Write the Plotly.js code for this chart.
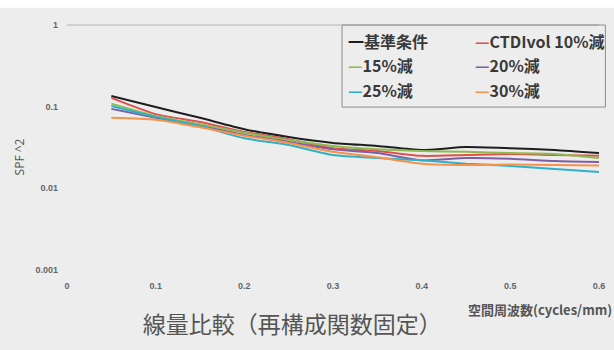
<!DOCTYPE html>
<html>
<head>
<meta charset="utf-8">
<script src="https://cdn.plot.ly/plotly-3.0.1.min.js"></script>
<style>
  html, body { margin: 0; padding: 0; background: #ededed; }
  #chart { width: 614px; height: 350px; }
</style>
</head>
<body>
<div id="chart"></div>
<script>
// Spatial frequency (cycles/mm)
const freq = [0.05, 0.1, 0.15, 0.2, 0.25, 0.3, 0.35, 0.4, 0.45, 0.5, 0.55, 0.6];

// SPF^2 per dose condition
const baseline = [0.135, 0.099, 0.073, 0.053, 0.0425, 0.036, 0.033, 0.0295, 0.032, 0.031, 0.0295, 0.027];
const ctdi10   = [0.128, 0.081, 0.065, 0.049, 0.040, 0.031, 0.0287, 0.025, 0.0256, 0.0263, 0.0256, 0.025];
const red15    = [0.109, 0.077, 0.061, 0.048, 0.039, 0.033, 0.030, 0.0287, 0.028, 0.027, 0.0263, 0.0235];
const red20    = [0.094, 0.073, 0.058, 0.045, 0.037, 0.030, 0.027, 0.022, 0.0235, 0.023, 0.0216, 0.021];
const red25    = [0.102, 0.075, 0.058, 0.041, 0.034, 0.0256, 0.0235, 0.022, 0.020, 0.0188, 0.0172, 0.0158];
const red30    = [0.073, 0.069, 0.056, 0.044, 0.036, 0.028, 0.024, 0.020, 0.0193, 0.0196, 0.0193, 0.019];

const seriesNames  = ['基準条件', 'CTDIvol 10%減', '15%減', '20%減', '25%減', '30%減'];
const seriesValues = [baseline, ctdi10, red15, red20, red25, red30];
const seriesColors = ['#1e1e1e', '#e0504f', '#8dbb4f', '#7e5fa6', '#2fb0c8', '#f7924a'];

const xTicks = [0, 0.1, 0.2, 0.3, 0.4, 0.5, 0.6];
const xTickText = ['0', '0.1', '0.2', '0.3', '0.4', '0.5', '0.6'];
const yTicks = [0.001, 0.01, 0.1, 1];
const yTickText = ['0.001', '0.01', '0.1', '1'];

const traces = seriesNames.map((name, i) => ({
  type: 'scatter',
  mode: 'lines',
  name: name,
  x: freq,
  y: seriesValues[i],
  line: { color: seriesColors[i], width: 2, shape: 'spline', smoothing: 0.6 },
  showlegend: false
}));

// Legend drawn as a boxed 2x3 grid of text entries
const legendCols = [0.524, 0.764];
const legendRows = [0.935, 0.835, 0.733];
const legendAnnotations = seriesNames.map((name, i) => ({
  xref: 'paper', yref: 'paper',
  x: legendCols[i % 2], y: legendRows[Math.floor(i / 2)],
  xanchor: 'left', yanchor: 'middle',
  showarrow: false,
  text: '<span style="color:' + seriesColors[i] + '">' + (i === 0 ? '一' : '—') + '</span>' + name,
  font: { family: 'Noto Sans CJK JP', size: 16, color: '#3a3a3a', weight: 'bold' }
}));

const layout = {
  width: 614,
  height: 350,
  margin: { l: 67, r: 15, t: 25, b: 80 },
  paper_bgcolor: '#ededed',
  plot_bgcolor: 'rgba(0,0,0,0)',
  title: {
    text: '線量比較（再構成関数固定）',
    font: { family: 'Noto Sans CJK JP', size: 23, color: '#555555' },
    x: 0.476, xanchor: 'center',
    y: 0.072, yanchor: 'middle',
    xref: 'container', yref: 'container'
  },
  xaxis: {
    range: [0, 0.6],
    tickvals: xTicks,
    ticktext: xTickText,
    showgrid: false,
    zeroline: false,
    showline: false,
    ticks: '',
    ticklabelstandoff: 9,
    tickfont: { family: 'Liberation Sans', size: 9, color: '#666666', weight: 'bold' }
  },
  yaxis: {
    type: 'log',
    range: [-3, 0],
    tickvals: yTicks,
    ticktext: yTickText,
    showgrid: false,
    zeroline: false,
    showline: false,
    ticks: '',
    ticklabelstandoff: 8,
    tickfont: { family: 'Liberation Sans', size: 9, color: '#666666', weight: 'bold' }
  },
  shapes: [
    // white band along the top edge
    { type: 'rect', xref: 'paper', yref: 'paper', x0: -0.2, x1: 1.1, y0: 1.07, y1: 1.2,
      fillcolor: '#ffffff', line: { width: 0 }, layer: 'below' },
    // top grid line at 1
    { type: 'line', xref: 'paper', yref: 'paper', x0: 0, x1: 1, y0: 1, y1: 1,
      line: { color: '#b4b4b4', width: 1 } },
    // legend frame
    { type: 'rect', xref: 'paper', yref: 'paper', x0: 0.517, x1: 1.012, y0: 0.665, y1: 1,
      fillcolor: 'rgba(0,0,0,0)', line: { color: '#8c8c8c', width: 1 } }
  ],
  annotations: legendAnnotations.concat([
    {
      xref: 'paper', yref: 'paper', x: -0.09, y: 0.46,
      xanchor: 'center', yanchor: 'middle', textangle: -90, showarrow: false,
      text: 'SPF ^2',
      font: { family: 'Open Sans', size: 12, color: '#555555' }
    },
    {
      xref: 'paper', yref: 'paper', x: 1.028, y: -0.163,
      xanchor: 'right', yanchor: 'middle', showarrow: false,
      text: '空間周波数(cycles/mm)',
      font: { family: 'Noto Sans CJK JP', size: 13, color: '#555555', weight: 'bold' }
    }
  ])
};

Plotly.newPlot('chart', traces, layout, { staticPlot: true, displayModeBar: false });
</script>
</body>
</html>
